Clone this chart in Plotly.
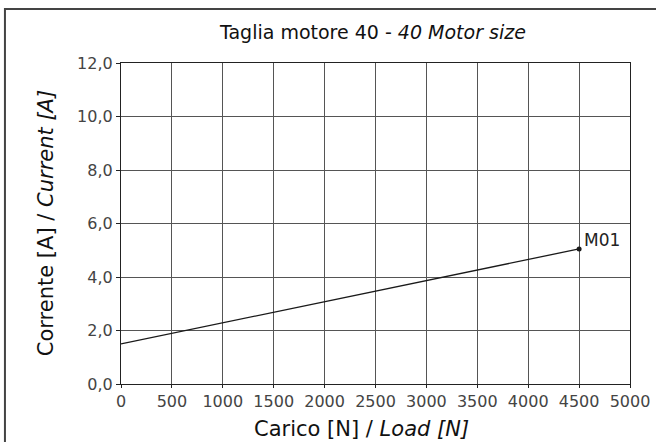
import plotly.graph_objects as go

load_n = [0, 4500]
current_a = [1.5, 5.05]
series_name = "M01"
x_ticks = [0, 500, 1000, 1500, 2000, 2500, 3000, 3500, 4000, 4500, 5000]
y_ticks = [0, 2, 4, 6, 8, 10, 12]
y_tick_labels = ["0,0", "2,0", "4,0", "6,0", "8,0", "10,0", "12,0"]

FONT = "DejaVu Sans"

fig = go.Figure()
fig.add_trace(go.Scatter(
    x=load_n, y=current_a, mode="lines", name=series_name,
    line=dict(color="#1a1a1a", width=1.3), showlegend=False, hoverinfo="skip"))
fig.add_trace(go.Scatter(
    x=[load_n[-1]], y=[current_a[-1]], mode="markers",
    marker=dict(color="#1a1a1a", size=5),
    showlegend=False, hoverinfo="skip"))

fig.update_layout(
    width=656, height=442,
    margin=dict(l=121, r=26, t=63, b=58),
    paper_bgcolor="white", plot_bgcolor="white",
    font=dict(family=FONT, color="#333"),
    xaxis=dict(range=[0, 5000], tickvals=x_ticks, ticktext=[str(v) for v in x_ticks],
               showgrid=True, gridcolor="#555", gridwidth=1, zeroline=False,
               showline=True, linecolor="#222", linewidth=1.2, mirror=True,
               ticks="outside", ticklen=3, tickcolor="#222", automargin=False,
               tickfont=dict(family=FONT, size=16, color="#444")),
    yaxis=dict(range=[0, 12], tickvals=y_ticks, ticktext=y_tick_labels,
               showgrid=True, gridcolor="#555", gridwidth=1, zeroline=False,
               showline=True, linecolor="#222", linewidth=1.2, mirror=True,
               ticks="outside", ticklen=4, tickcolor="#222", automargin=False,
               tickfont=dict(family=FONT, size=16, color="#444")),
    shapes=[dict(type="path", xref="paper", yref="paper",
                 path="M -0.228,-0.3 L -0.228,1.1683 L 1.2,1.1683",
                 line=dict(color="#444", width=2), layer="below")],
    annotations=[
        dict(text="Taglia motore 40 - <i>40 Motor size</i>", xref="paper", yref="paper",
             x=0.495, y=1.0966, xanchor="center", yanchor="middle", showarrow=False,
             font=dict(family=FONT, size=19, color="#111")),
        dict(text="Carico [N] / <i>Load [N]</i>", xref="paper", yref="paper",
             x=0.473, y=-0.1405, xanchor="center", yanchor="middle", showarrow=False,
             font=dict(family=FONT, size=21, color="#111")),
        dict(text="Corrente [A] / <i>Current [A]</i>", xref="paper", yref="paper",
             x=-0.147, y=0.5016, xanchor="center", yanchor="middle", showarrow=False,
             textangle=-90, font=dict(family=FONT, size=21, color="#111")),
        dict(text=series_name, x=load_n[-1], y=current_a[-1], xref="x", yref="y",
             xanchor="left", yanchor="middle", xshift=3, yshift=9, showarrow=False,
             font=dict(family=FONT, size=17, color="#222")),
    ],
)

fig.write_html("out.html", config={"displayModeBar": False},
               post_script="document.body.style.margin='0';document.body.style.overflow='hidden';")
